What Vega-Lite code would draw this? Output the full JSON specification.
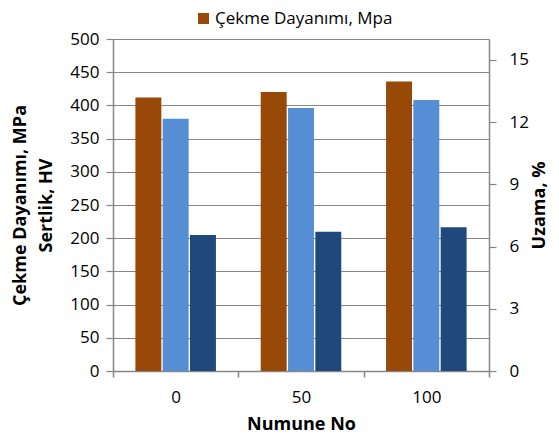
{
  "$schema": "https://vega.github.io/schema/vega-lite/v6.json",
  "width": 376,
  "height": 332,
  "autosize": "none",
  "padding": {"left": 113, "top": 39, "right": 70, "bottom": 67},
  "background": "white",
  "config": {
    "view": {"stroke": null},
    "font": "Open Sans",
    "axis": {"labelFont": "Open Sans", "titleFont": "Open Sans", "labelColor": "#000", "titleColor": "#000", "domainColor": "#868686", "tickColor": "#868686", "gridColor": "#868686"}
  },
  "data": {
    "values": [
      {"numune": "0", "series": "Çekme Dayanımı, Mpa", "side": "left", "value": 412},
      {"numune": "0", "series": "Sertlik, HV", "side": "left", "value": 380},
      {"numune": "0", "series": "Uzama, %", "side": "right", "value": 6.55},
      {"numune": "50", "series": "Çekme Dayanımı, Mpa", "side": "left", "value": 420},
      {"numune": "50", "series": "Sertlik, HV", "side": "left", "value": 396},
      {"numune": "50", "series": "Uzama, %", "side": "right", "value": 6.71},
      {"numune": "100", "series": "Çekme Dayanımı, Mpa", "side": "left", "value": 436},
      {"numune": "100", "series": "Sertlik, HV", "side": "left", "value": 408},
      {"numune": "100", "series": "Uzama, %", "side": "right", "value": 6.93}
    ]
  },
  "encoding": {
    "x": {
      "field": "numune", "type": "nominal", "sort": ["0", "50", "100"],
      "scale": {"paddingInner": 0, "paddingOuter": 0},
      "axis": {"title": "Numune No", "titleFontSize": 18, "titleFontWeight": "bold", "labelFontSize": 17, "labelAngle": 0, "tickBand": "extent", "tickSize": 6, "labelPadding": 12, "titlePadding": 10, "domainWidth": 1.5, "tickWidth": 1.5}
    },
    "xOffset": {
      "field": "series", "type": "nominal",
      "scale": {"domain": ["Çekme Dayanımı, Mpa", "Sertlik, HV", "Uzama, %"], "paddingInner": 0.05, "paddingOuter": 0.82}
    },
    "color": {
      "field": "series", "type": "nominal",
      "scale": {"domain": ["Çekme Dayanımı, Mpa", "Sertlik, HV", "Uzama, %"], "range": ["#984807", "#558ED5", "#1F497D"]},
      "legend": {"values": ["Çekme Dayanımı, Mpa"], "title": null, "orient": "none", "legendX": 82, "legendY": -29, "symbolType": "square", "symbolSize": 121, "symbolStrokeWidth": 0, "labelFontSize": 17, "labelFont": "Open Sans", "labelColor": "#000", "labelOffset": 3, "labelLimit": 0, "padding": 0}
    }
  },
  "layer": [
    {
      "transform": [{"filter": "datum.side === 'left'"}],
      "mark": {"type": "bar"},
      "encoding": {
        "y": {
          "field": "value", "type": "quantitative",
          "scale": {"domain": [0, 500]},
          "axis": {"orient": "left", "values": [0, 50, 100, 150, 200, 250, 300, 350, 400, 450, 500], "title": ["Çekme Dayanımı, MPa", "Sertlik, HV"], "titleFontSize": 18, "titleFontWeight": "bold", "titleLineHeight": 26, "labelFontSize": 17, "grid": true, "gridWidth": 1.2, "tickSize": 7, "domainWidth": 1.5, "tickWidth": 1.2, "labelPadding": 7, "titlePadding": 14}
        }
      }
    },
    {
      "transform": [{"filter": "datum.side === 'right'"}],
      "mark": {"type": "bar"},
      "encoding": {
        "y": {
          "field": "value", "type": "quantitative",
          "scale": {"domain": [0, 16]},
          "axis": {"orient": "right", "values": [0, 3, 6, 9, 12, 15], "title": "Uzama, %", "titleAngle": 270, "titleFontSize": 18, "titleFontWeight": "bold", "labelFontSize": 17, "grid": false, "tickSize": 7, "domainWidth": 1.5, "tickWidth": 1.2, "labelPadding": 13, "titlePadding": 20}
        }
      }
    }
  ],
  "resolve": {"scale": {"y": "independent"}, "axis": {"y": "independent"}}
}
